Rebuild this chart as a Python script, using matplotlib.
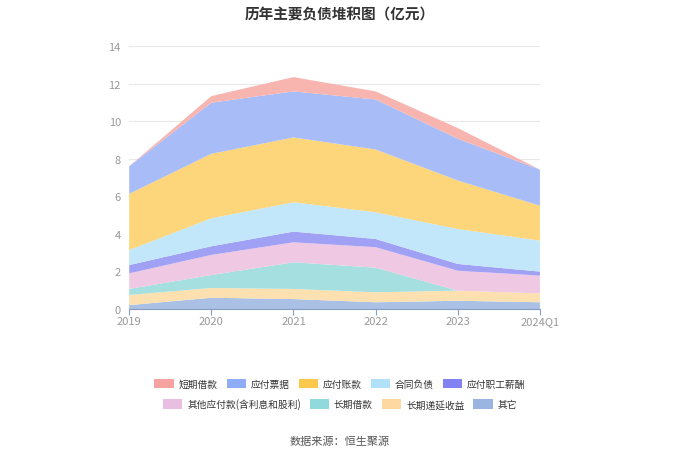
import numpy as np
import matplotlib
matplotlib.use("Agg")
from matplotlib import pyplot as plt
from matplotlib.patches import Patch

plt.rcParams['font.family'] = ['Noto Sans CJK SC', 'DejaVu Sans']

years = ['2019', '2020', '2021', '2022', '2023', '2024Q1']

# values in 亿元, stacked bottom -> top
qita = [0.21, 0.60, 0.53, 0.36, 0.44, 0.36]          # 其它
diyan = [0.54, 0.52, 0.54, 0.53, 0.54, 0.47]         # 长期递延收益
changqi = [0.32, 0.69, 1.42, 1.31, 0.00, 0.00]       # 长期借款
qitayingfu = [0.83, 1.07, 1.06, 1.09, 1.06, 0.95]    # 其他应付款(含利息和股利)
zhigong = [0.44, 0.46, 0.57, 0.44, 0.36, 0.21]       # 应付职工薪酬
hetong = [0.80, 1.49, 1.56, 1.42, 1.86, 1.65]        # 合同负债
zhangkuan = [2.99, 3.43, 3.45, 3.34, 2.58, 1.86]     # 应付账款
piaoju = [1.47, 2.72, 2.45, 2.66, 2.22, 1.92]        # 应付票据
duanqi = [0.00, 0.35, 0.76, 0.43, 0.57, 0.00]        # 短期借款

stack = [qita, diyan, changqi, qitayingfu, zhigong, hetong, zhangkuan, piaoju, duanqi]
names = ['其它', '长期递延收益', '长期借款', '其他应付款(含利息和股利)', '应付职工薪酬',
         '合同负债', '应付账款', '应付票据', '短期借款']
fill_colors = ['#aac0e4', '#fde0b0', '#a6dfe0', '#efc8e4', '#a0a0f5',
               '#c2e6fa', '#fdd57a', '#a8bcf8', '#f8b4ae']
leg_colors = ['#88a8dc', '#fdd28f', '#7dd3d6', '#e6b4dc', '#6c6cf0',
              '#a4dcf8', '#fbbf2f', '#7b9ef5', '#f4928f']

fig = plt.figure(figsize=(6.8, 4.6), dpi=100)
ax = fig.add_axes([0.19, 0.326, 0.604, 0.572])

x = np.arange(len(years))
ax.stackplot(x, *stack, colors=fill_colors, linewidth=0)

ax.set_xlim(0, len(years) - 1)
ax.set_ylim(0, 14)
ax.set_yticks(range(0, 15, 2))
ax.set_xticks(x)
ax.set_xticklabels(years)
ax.grid(axis='y', color='#e8e8e8', linewidth=0.8)
ax.set_axisbelow(True)
for s in ['top', 'right', 'left']:
    ax.spines[s].set_visible(False)
ax.spines['bottom'].set_color('#8a9bc0')
ax.tick_params(axis='y', length=0, labelsize=8, colors='#999999', pad=6)
ax.tick_params(axis='x', length=4, color='#8a9bc0', labelsize=8,
               labelcolor='#999999', pad=1)

fig.suptitle('历年主要负债堆积图（亿元）', y=0.985, fontsize=10.5,
             fontweight='bold', color='#333333')

order1 = [8, 7, 6, 5, 4]
order2 = [3, 2, 1, 0]
h1 = [Patch(facecolor=leg_colors[i], edgecolor='none', alpha=0.85) for i in order1]
h2 = [Patch(facecolor=leg_colors[i], edgecolor='none', alpha=0.85) for i in order2]
kw = dict(frameon=False, fontsize=7, handlelength=2.0, handleheight=1.1,
          columnspacing=0.9, handletextpad=0.5, labelcolor='#333333')
fig.legend(h1, [names[i] for i in order1], loc='center',
           bbox_to_anchor=(0.5, 1 - 385 / 460), ncol=5, **kw)
fig.legend(h2, [names[i] for i in order2], loc='center',
           bbox_to_anchor=(0.5, 1 - 405 / 460), ncol=4, **kw)

fig.text(0.5, 1 - 442 / 460, '数据来源：恒生聚源', ha='center', va='center',
         fontsize=8, color='#555555')

fig.savefig('out.png', dpi=100, facecolor='white')
